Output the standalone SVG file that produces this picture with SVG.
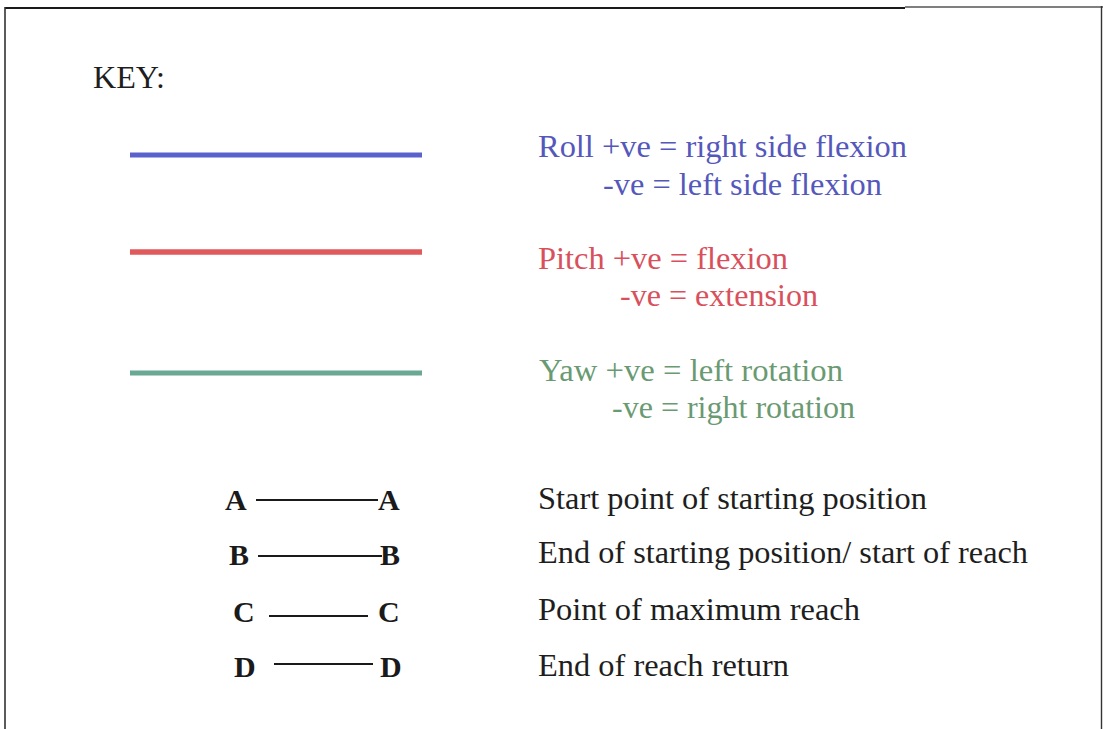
<svg xmlns="http://www.w3.org/2000/svg" width="1103" height="729" viewBox="0 0 1103 729">
<style>
.t{font-family:"Liberation Serif","Times New Roman",serif;font-size:32px;}
.k{fill:#1e1e1e;}
.b{font-family:"Liberation Serif","Times New Roman",serif;font-size:30px;font-weight:bold;fill:#1a1a1a;}
.blue{fill:#5558bb;}
.red{fill:#d9505c;}
.green{fill:#6a9a72;}
.seg{stroke:#1a1a1a;stroke-width:2;}
</style>
<rect width="1103" height="729" fill="#ffffff"/>
<g id="frame" fill="none">
<line x1="5" y1="8" x2="905" y2="8" stroke="#1a1a1a" stroke-width="2.2"/>
<line x1="905" y1="7" x2="1103" y2="7" stroke="#555" stroke-width="1.5"/>
<line x1="5" y1="7" x2="5" y2="729" stroke="#333" stroke-width="1.6"/>
<line x1="1101.5" y1="6" x2="1101.5" y2="729" stroke="#333" stroke-width="1.4"/>
</g>
<g id="title"><text class="t k" x="93" y="88" font-size="30" textLength="72" lengthAdjust="spacingAndGlyphs">KEY:</text></g>
<g id="roll">
<line x1="130" y1="155" x2="422" y2="155" stroke="#5a62cc" stroke-width="5"/>
<text class="t blue" x="538" y="157" textLength="369" lengthAdjust="spacingAndGlyphs">Roll +ve = right side flexion</text>
<text class="t blue" x="603" y="195" textLength="279" lengthAdjust="spacingAndGlyphs">-ve = left side flexion</text>
</g>
<g id="pitch">
<line x1="130" y1="252" x2="422" y2="252" stroke="#e05a5c" stroke-width="5.5"/>
<text class="t red" x="538" y="269" textLength="250" lengthAdjust="spacingAndGlyphs">Pitch +ve = flexion</text>
<text class="t red" x="620" y="306" textLength="198" lengthAdjust="spacingAndGlyphs">-ve = extension</text>
</g>
<g id="yaw">
<line x1="130" y1="373" x2="422" y2="373" stroke="#68a894" stroke-width="5"/>
<text class="t green" x="539" y="381" textLength="304" lengthAdjust="spacingAndGlyphs">Yaw +ve = left rotation</text>
<text class="t green" x="612" y="418" textLength="243" lengthAdjust="spacingAndGlyphs">-ve = right rotation</text>
</g>
<g id="connectors">
<line class="seg" x1="256" y1="500" x2="378" y2="500"/>
<line class="seg" x1="258" y1="556" x2="382" y2="556"/>
<line class="seg" x1="269" y1="616" x2="368" y2="616"/>
<line class="seg" x1="274" y1="664" x2="373" y2="664"/>
</g>
<g id="rowA">
<text class="b" x="225" y="510">A</text><text class="b" x="378" y="510">A</text>
<text class="t k" x="538" y="509" textLength="389" lengthAdjust="spacingAndGlyphs">Start point of starting position</text>
</g>
<g id="rowB">
<text class="b" x="229" y="565">B</text><text class="b" x="380" y="565">B</text>
<text class="t k" x="538" y="563" textLength="490" lengthAdjust="spacingAndGlyphs">End of starting position/ start of reach</text>
</g>
<g id="rowC">
<text class="b" x="233" y="622">C</text><text class="b" x="378" y="622">C</text>
<text class="t k" x="538" y="620" textLength="322" lengthAdjust="spacingAndGlyphs">Point of maximum reach</text>
</g>
<g id="rowD">
<text class="b" x="234" y="677">D</text><text class="b" x="380" y="677">D</text>
<text class="t k" x="538" y="676" textLength="251" lengthAdjust="spacingAndGlyphs">End of reach return</text>
</g>
</svg>
